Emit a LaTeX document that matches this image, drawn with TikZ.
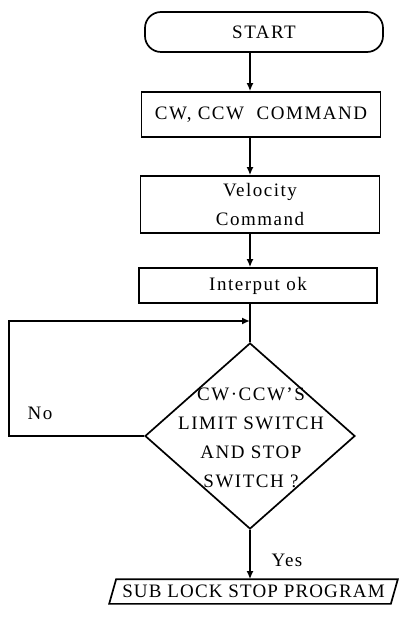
\documentclass[tikz,border=0pt]{standalone}
\usepackage{fontspec}
\newfontfamily\labfont{Liberation Serif}[LetterSpace=8]
\newfontfamily\labfonttight{Liberation Serif}[LetterSpace=6]
\usetikzlibrary{shapes.geometric,arrows.meta}
\begin{document}
\begin{tikzpicture}[x=1pt,y=-1pt,line width=1.7pt,
  every node/.style={font=\labfont\fontsize{19}{29}\selectfont},
  box/.style={draw,rectangle,inner sep=0pt},
  arr/.style={-{Latex[length=8pt,width=7pt]}}]
\useasboundingbox (0,0) rectangle (404,617);
\coordinate (ax) at (250,0);
\coordinate (lft) at (9,0);
\coordinate (j) at (250,321);
\node[box,rounded corners=16pt,minimum width=238pt,minimum height=40pt] (start) at (264,32) {START};
\node[box,minimum width=239pt,minimum height=45pt] (cw) at (261,114.5) {CW, CCW\ \ COMMAND};
\node[box,minimum width=239pt,minimum height=57pt,align=center] (vel) at (260,204.5) {Velocity\\Command};
\node[box,minimum width=238pt,minimum height=35pt] (int) at (258,285.5) {Interput ok};
\node[draw,diamond,minimum width=210pt,minimum height=186pt,inner sep=0pt] (dec) at (250,436) {};
\node[align=center,inner sep=0pt] (dectext) at (251,438) {CW·CCW’S\\LIMIT SWITCH\\AND STOP\\SWITCH ?};
\node[inner sep=0pt,minimum width=280pt,minimum height=23pt,font=\labfonttight\fontsize{19}{29}\selectfont] (sub) at (253.5,591.5) {SUB LOCK STOP PROGRAM};
\draw ([xshift=3.5pt]sub.north west) -- ([xshift=3.5pt]sub.north east) -- ([xshift=-3.5pt]sub.south east) -- ([xshift=-3.5pt]sub.south west) -- cycle;
\node (no) at (40,413) {No};
\node (yes) at (287,560) {Yes};
\draw[arr] (start.south -| ax) -- (cw.north -| ax);
\draw[arr] (cw.south -| ax) -- (vel.north -| ax);
\draw[arr] (vel.south -| ax) -- (int.north -| ax);
\draw (int.south -| ax) -- (dec.north);
\draw[arr] (dec.west) -- (dec.west -| lft) -- (j -| lft) -- (j);
\draw[arr] (dec.south) -- (sub.north -| ax);
\end{tikzpicture}
\end{document}
